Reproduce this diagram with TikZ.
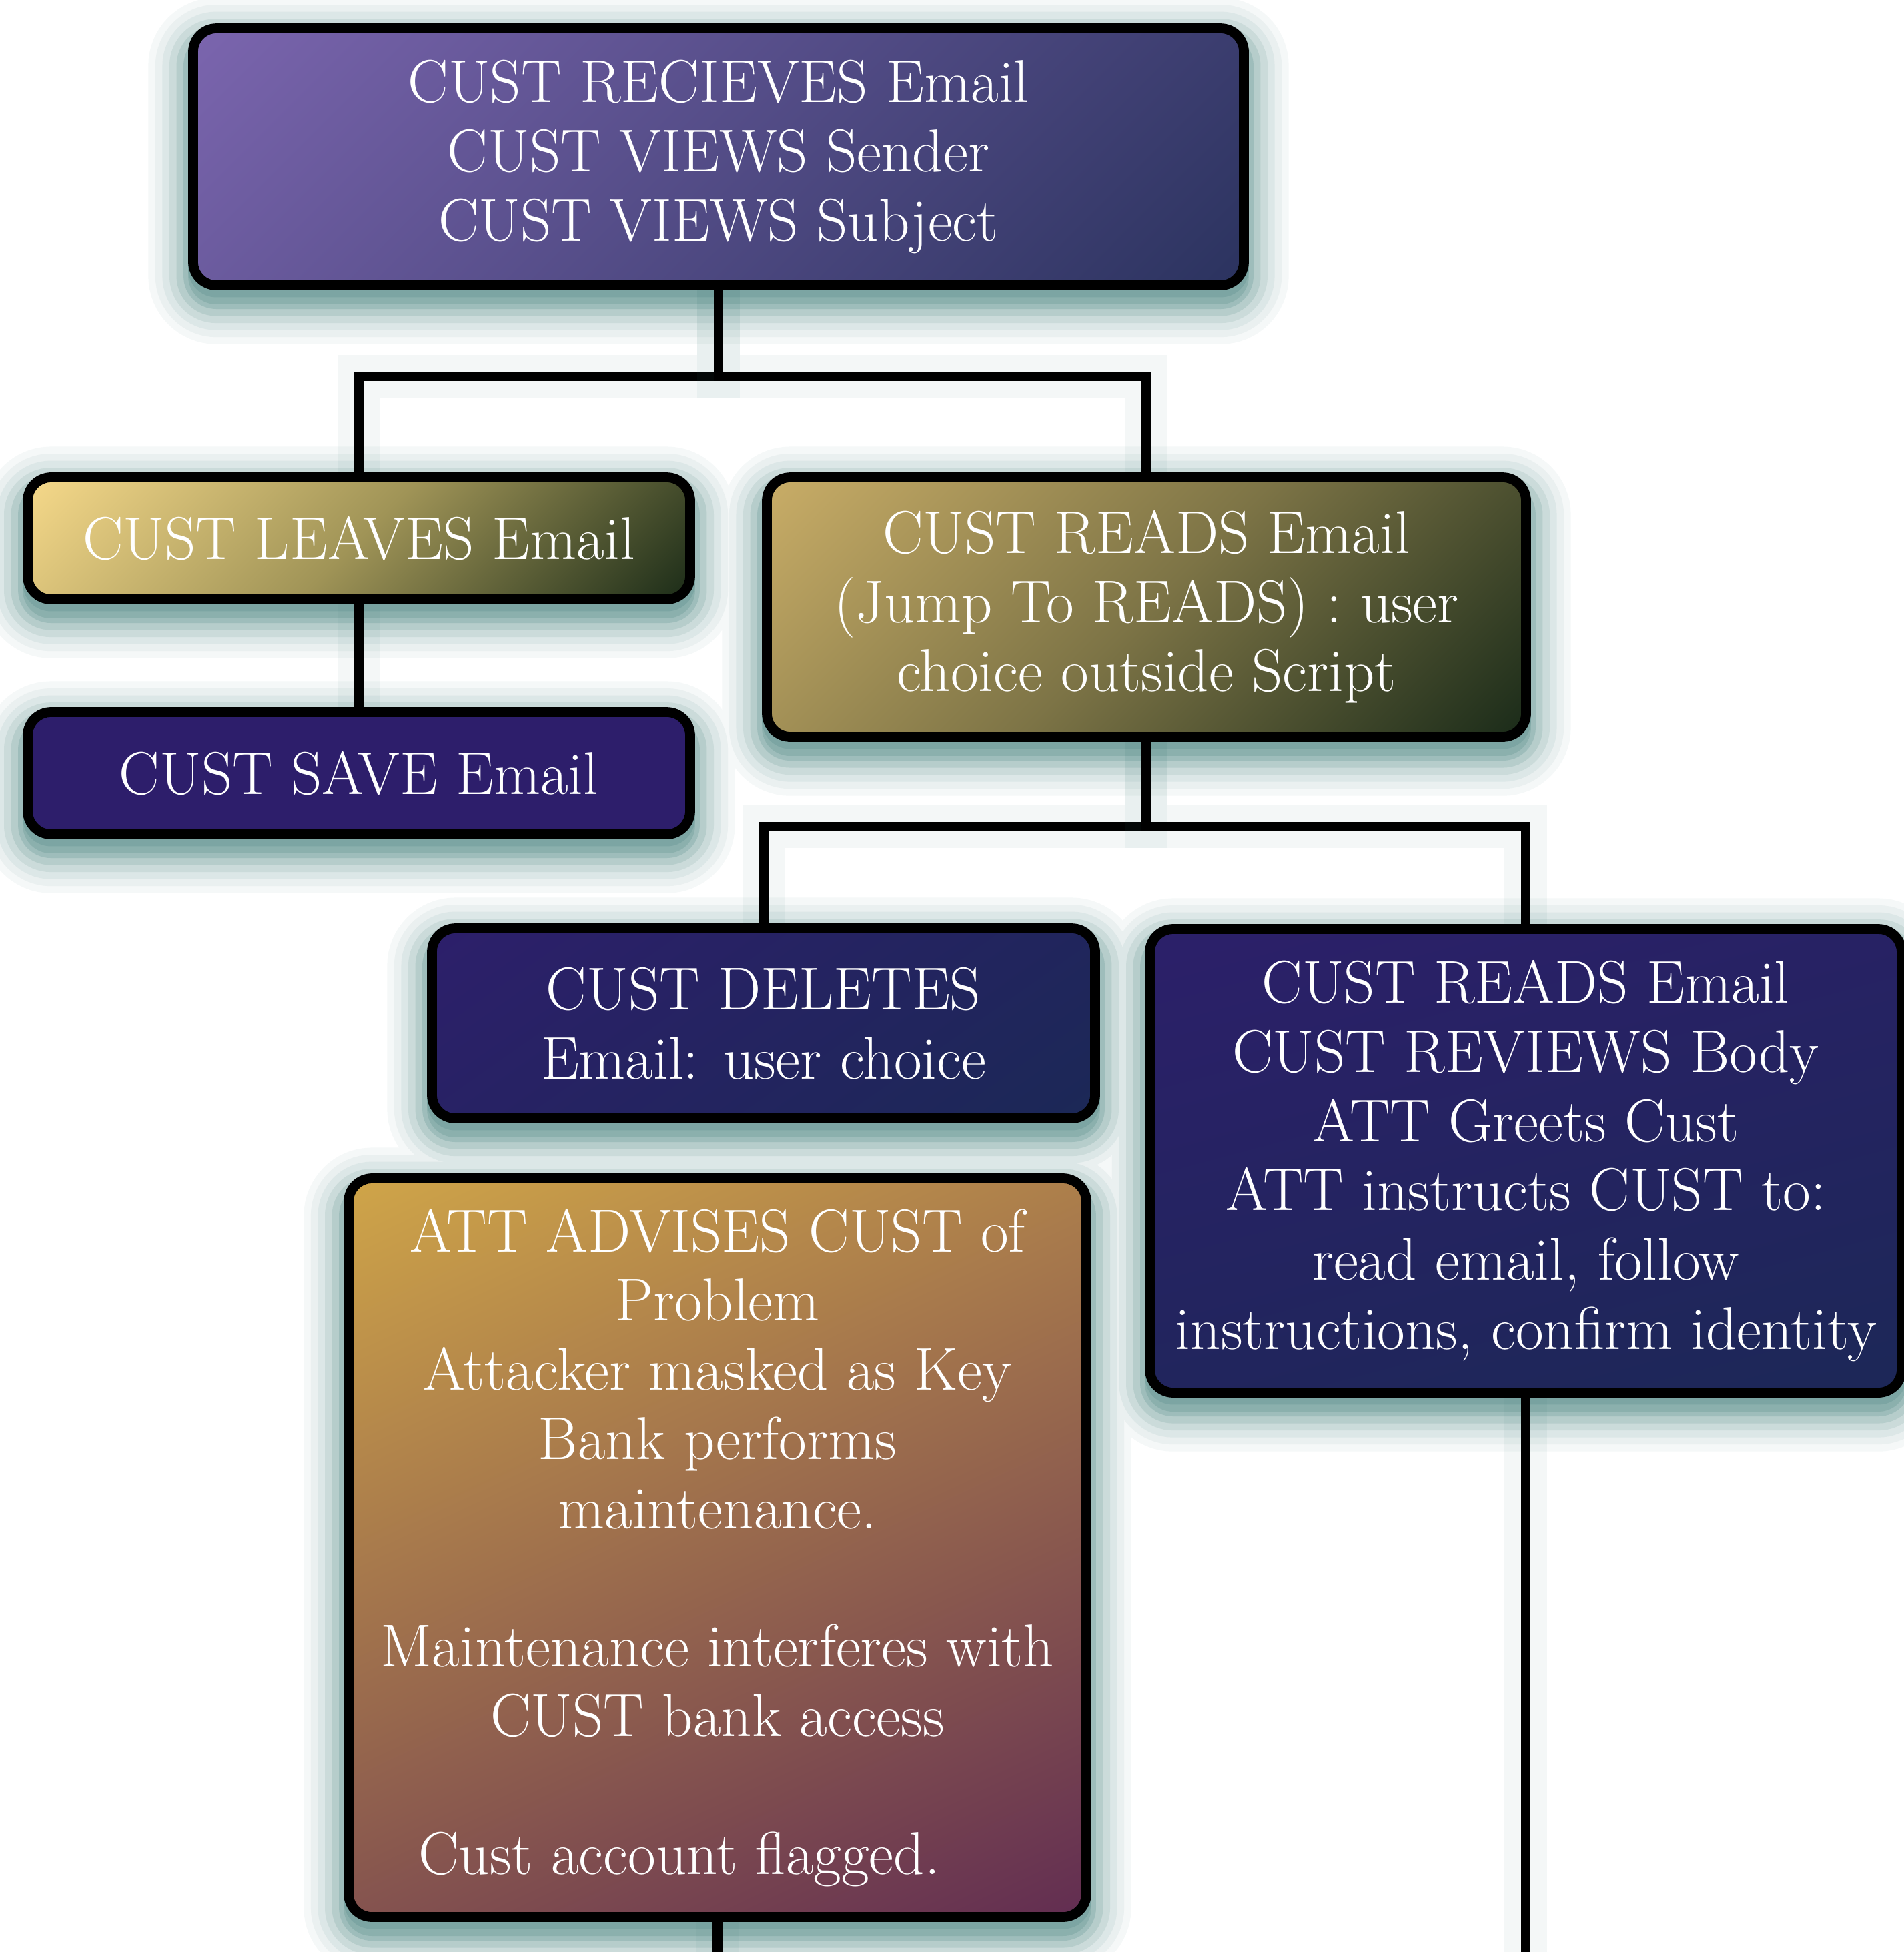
\documentclass[tikz,border=0pt]{standalone}
\usepackage{tikz}
\usetikzlibrary{backgrounds}

\definecolor{glowteal}{HTML}{3E7B77}
\definecolor{violetA}{HTML}{7B65AE}
\definecolor{violetB}{HTML}{2B335F}
\definecolor{goldA}{HTML}{F6D98A}
\definecolor{goldM}{HTML}{A09457}
\definecolor{goldB}{HTML}{1B2C18}
\definecolor{oliveA}{HTML}{C9AD67}
\definecolor{oliveM}{HTML}{7D7446}
\definecolor{oliveB}{HTML}{1A2B19}
\definecolor{navy}{HTML}{2D1E6B}
\definecolor{navyA}{HTML}{2D1F6B}
\definecolor{navyB}{HTML}{1B2856}
\definecolor{amberA}{HTML}{D3A948}
\definecolor{amberB}{HTML}{5E2952}

% axis shading that runs from corner to corner
\makeatletter
\pgfdeclareverticalshading[tikz@axis@top,tikz@axis@middle,tikz@axis@bottom]{diag}{100bp}{%
  color(0bp)=(tikz@axis@bottom); color(14.6bp)=(tikz@axis@bottom);
  color(50bp)=(tikz@axis@middle);
  color(85.4bp)=(tikz@axis@top); color(100bp)=(tikz@axis@top)}
\makeatother

\begin{document}
\begin{tikzpicture}[line width=4.2pt]
        \tikzstyle{box}=[rectangle,rounded corners=10pt,draw=black,line width=4.2pt,
                text=white,align=center,inner sep=0pt,font=\fontsize{25.8}{29.5}\selectfont]
        \tikzstyle{wire}=[draw=black,line width=4.2pt,
                preaction={draw=glowteal,line width=18pt,opacity=.06}]

        \useasboundingbox (0,0) rectangle (28.54,-29.26);

        \node[box,minimum width=15.75cm,minimum height=3.85cm,
                top color=violetA,bottom color=violetB,shading=diag,shading angle=45] (V-recv) at (10.77,-2.35)
                {CUST RECIEVES Email\\CUST VIEWS Sender\\CUST VIEWS Subject};
        \node[box,minimum width=9.93cm,minimum height=1.83cm,
                top color=goldA,bottom color=goldB,middle color=goldM,shading=diag,shading angle=45] (V-leaves) at (5.38,-8.07)
                {CUST LEAVES Email};
        \node[box,minimum width=9.93cm,minimum height=1.83cm,fill=navy] (V-save) at (5.38,-11.59)
                {CUST SAVE Email};
        \node[box,minimum width=11.38cm,minimum height=3.89cm,
                top color=oliveA,bottom color=oliveB,middle color=oliveM,shading=diag,shading angle=45] (V-reads) at (17.185,-9.10)
                {CUST READS Email\\(Jump To READS) : user\\choice outside Script};
        \node[box,minimum width=9.94cm,minimum height=2.85cm,
                top color=navyA,bottom color=navyB,shading=diag,shading angle=35] (V-deletes) at (11.445,-15.34)
                {CUST DELETES\\Email: user choice};
        \node[box,minimum width=11.27cm,minimum height=6.95cm,
                top color=navyA,bottom color=navyB,shading=diag,shading angle=15] (V-instr) at (22.87,-17.40)
                {CUST READS Email\\CUST REVIEWS Body\\ATT Greets Cust\\ATT instructs CUST to:\\
                 read email, follow\\instructions, confirm identity};
        \node[box,minimum width=11.06cm,minimum height=11.07cm,
                top color=amberA,bottom color=amberB,shading=diag,shading angle=25] (V-advises) at (10.755,-23.20)
                {ATT ADVISES CUST of\\Problem\\Attacker masked as Key\\Bank performs\\maintenance.\\[29.5pt]
                 Maintenance interferes with\\CUST bank access\\[29.5pt]
                 Cust account flagged.\hspace*{1.15cm}};

        \foreach \from/\to/\y in {recv/leaves/-5.64, recv/reads/-5.64, reads/deletes/-12.39, reads/instr/-12.39}
                \draw[wire] (V-\from.south) -- (V-\from.south |- 0,\y) -| (V-\to.north);
        \draw[wire] (V-leaves) -- (V-save);

        \coordinate (E-advises) at (V-advises.south |- 0,-29.5);
        \coordinate (E-instr) at (V-instr.south |- 0,-29.5);
        \draw[wire] (V-advises.south) -- (E-advises);
        \draw[wire] (V-instr.south) -- (E-instr);

        % soft teal shadow behind the boxes
        \begin{scope}[on background layer]
            \begin{scope}[transform canvas={yshift=-6pt}]
                \foreach \w/\c in {34/5, 28/11, 22/18, 16/27, 10/38, 4/50}
                        \foreach \n in {recv,leaves,save,reads,deletes,instr,advises}
                                \path[draw=glowteal!\c!white,fill=glowteal!\c!white,line width=\w pt,rounded corners=12pt]
                                        (V-\n.north west) rectangle (V-\n.south east);
                \foreach \n in {recv,leaves,save,reads,deletes,instr,advises}
                        \path[fill=glowteal!60!white,rounded corners=12pt] (V-\n.north west) rectangle (V-\n.south east);
            \end{scope}
            \begin{scope}[transform canvas={yshift=-3pt}]
                \foreach \n in {recv,leaves,save,reads,deletes,instr,advises}
                        \path[fill=glowteal!68!white,rounded corners=12pt] (V-\n.north west) rectangle (V-\n.south east);
            \end{scope}
        \end{scope}
\end{tikzpicture}
\end{document}
